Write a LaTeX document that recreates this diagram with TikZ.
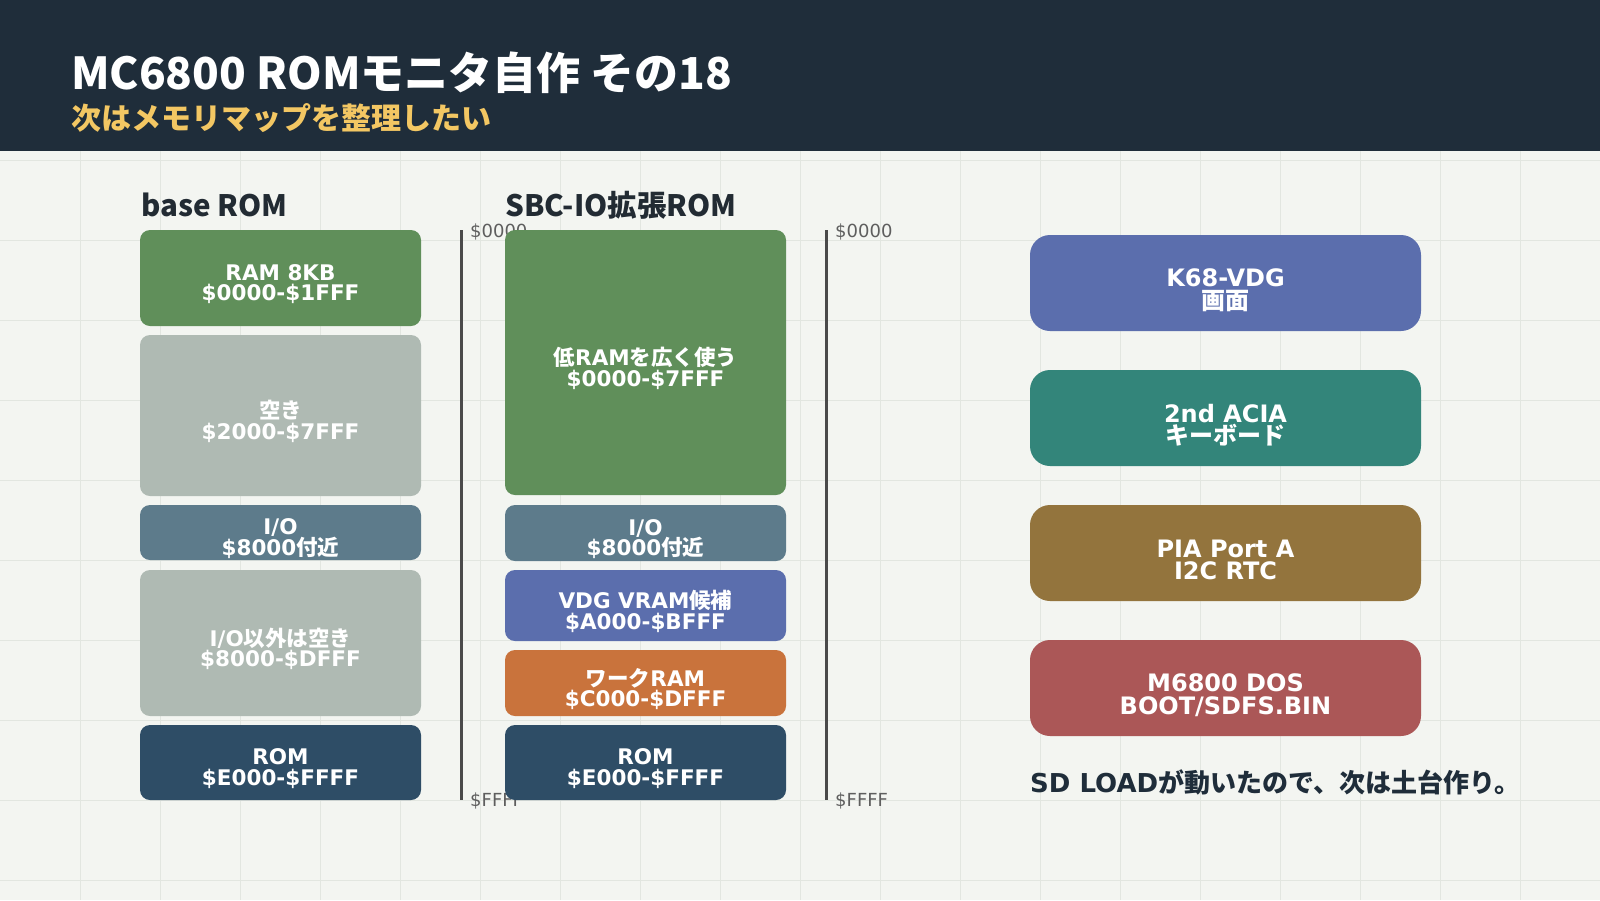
\documentclass[tikz,border=0pt]{standalone}
\usepackage{fontspec}
\setmainfont{DejaVu Sans}
\newfontfamily\cjk{Noto Sans CJK JP}
\newcommand{\J}[1]{{\cjk #1}}
\definecolor{bgc}{HTML}{F3F5F1}
\definecolor{gridc}{HTML}{E2E6E0}
\definecolor{headc}{HTML}{1F2D3A}
\definecolor{yelc}{HTML}{F3C763}
\definecolor{grnc}{HTML}{608F5A}
\definecolor{gryc}{HTML}{AFBAB3}
\definecolor{stlc}{HTML}{5D7B8B}
\definecolor{romc}{HTML}{2E4D66}
\definecolor{vdgc}{HTML}{5B6EAD}
\definecolor{orgc}{HTML}{C9733C}
\definecolor{tealc}{HTML}{33857A}
\definecolor{ochc}{HTML}{93743D}
\definecolor{redc}{HTML}{AB5757}
\definecolor{axc}{HTML}{4A4A4A}
\definecolor{labc}{HTML}{5E5E5E}
\definecolor{txtc}{HTML}{222B33}
\begin{document}
\begin{tikzpicture}[x=1pt,y=-1pt,
  mbox/.style={rectangle, rounded corners=10pt, inner sep=0pt, minimum width=281pt},
  mtxt/.style={inner sep=0pt, text=white, align=center, font=\bfseries\fontsize{21.5}{20.5}\selectfont},
  rbox/.style={rectangle, rounded corners=20pt, inner sep=0pt, minimum width=391pt, minimum height=96pt},
  rtxt/.style={inner sep=0pt, text=white, align=center, font=\bfseries\fontsize{24}{22.5}\selectfont},
  axlab/.style={anchor=west, inner sep=0pt, text=labc, font=\fontsize{18}{20}\selectfont},
  colhead/.style={anchor=base west, inner sep=0pt, text=txtc, font=\cjk\bfseries\fontsize{29.5}{34}\selectfont},
  axline/.style={draw=axc, line width=3pt}
]
\useasboundingbox (0,0) rectangle (1600,900);
\fill[bgc] (0,0) rectangle (1600,900);
\foreach \gx in {80,160,...,1520} \draw[gridc, line width=1pt] (\gx,0) -- (\gx,900);
\foreach \gy in {160,240,...,880} \draw[gridc, line width=1pt] (0,\gy) -- (1600,\gy);
\fill[headc] (0,0) rectangle (1600,151);
\node[anchor=base west, inner sep=0pt, text=white, font=\cjk\bfseries\fontsize{44}{50}\selectfont] (title) at (71,89) {MC6800 ROMモニタ自作 その18};
\node[anchor=base west, inner sep=0pt, text=yelc, font=\cjk\bfseries\fontsize{30}{34}\selectfont] (subtitle) at (71,129) {次はメモリマップを整理したい};
\node[colhead] (h1) at (141,216) {base ROM};
\node[colhead] (h2) at (505,216) {SBC-IO拡張ROM};
% axes
\coordinate (a1t) at (461,230); \coordinate (a1b) at (461,800);
\coordinate (a2t) at (826,230); \coordinate (a2b) at (826,800);
\draw[axline] (a1t) -- (a1b);
\draw[axline] (a2t) -- (a2b);
\node[axlab] (l1t) at (470,232) {\$0000};
\node[axlab] (l1b) at (470,801) {\$FFFF};
\node[axlab] (l2t) at (835,232) {\$0000};
\node[axlab] (l2b) at (835,801) {\$FFFF};
% left column
\node[mbox, fill=grnc, minimum height=96pt] (b1) at (280.5,278) {};
\node[mbox, fill=gryc, minimum height=161pt] (b2) at (280.5,415.5) {};
\node[mbox, fill=stlc, minimum height=55pt] (b3) at (280.5,532.5) {};
\node[mbox, fill=gryc, minimum height=146pt] (b4) at (280.5,643) {};
\node[mbox, fill=romc, minimum height=75pt] (b5) at (280.5,762.5) {};
\node[mtxt] (t1) at ([yshift=-6pt]b1.center) {RAM 8KB\\\$0000-\$1FFF};
\node[mtxt] (t2) at ([yshift=-6pt]b2.center) {\J{空き}\\\$2000-\$7FFF};
\node[mtxt] (t3) at ([yshift=-6pt]b3.center) {I/O\\\$8000\J{付近}};
\node[mtxt] (t4) at ([yshift=-6pt]b4.center) {I/O\J{以外は空き}\\\$8000-\$DFFF};
\node[mtxt] (t5) at ([yshift=-6pt]b5.center) {ROM\\\$E000-\$FFFF};
% middle column
\node[mbox, fill=grnc, minimum height=265pt] (c1) at (645.5,362.5) {};
\node[mbox, fill=stlc, minimum height=56pt] (c2) at (645.5,533) {};
\node[mbox, fill=vdgc, minimum height=71pt] (c3) at (645.5,605.5) {};
\node[mbox, fill=orgc, minimum height=66pt] (c4) at (645.5,683) {};
\node[mbox, fill=romc, minimum height=75pt] (c5) at (645.5,762.5) {};
\node[mtxt] (u1) at ([yshift=-6pt]c1.center) {\J{低}RAM\J{を広く使う}\\\$0000-\$7FFF};
\node[mtxt] (u2) at ([yshift=-6pt]c2.center) {I/O\\\$8000\J{付近}};
\node[mtxt] (u3) at ([yshift=-6pt]c3.center) {VDG VRAM\J{候補}\\\$A000-\$BFFF};
\node[mtxt] (u4) at ([yshift=-6pt]c4.center) {\J{ワーク}RAM\\\$C000-\$DFFF};
\node[mtxt] (u5) at ([yshift=-6pt]c5.center) {ROM\\\$E000-\$FFFF};
% right column
\node[rbox, fill=vdgc] (r1) at (1225.5,283) {};
\node[rbox, fill=tealc] (r2) at (1225.5,418) {};
\node[rbox, fill=ochc] (r3) at (1225.5,553) {};
\node[rbox, fill=redc] (r4) at (1225.5,688) {};
\node[rtxt] (s1) at ([yshift=-7pt]r1.center) {K68-VDG\\\J{画面}};
\node[rtxt] (s2) at ([yshift=-7pt]r2.center) {2nd ACIA\\\J{キーボード}};
\node[rtxt] (s3) at ([yshift=-7pt]r3.center) {PIA Port A\\I2C RTC};
\node[rtxt] (s4) at ([yshift=-7pt]r4.center) {M6800 DOS\\BOOT/SDFS.BIN};
\node[anchor=base west, inner sep=0pt, text=headc, font=\bfseries\fontsize{26}{30}\selectfont] (foot) at (1030,792) {SD LOAD\J{が動いたので、次は土台作り。}};
\end{tikzpicture}
\end{document}
